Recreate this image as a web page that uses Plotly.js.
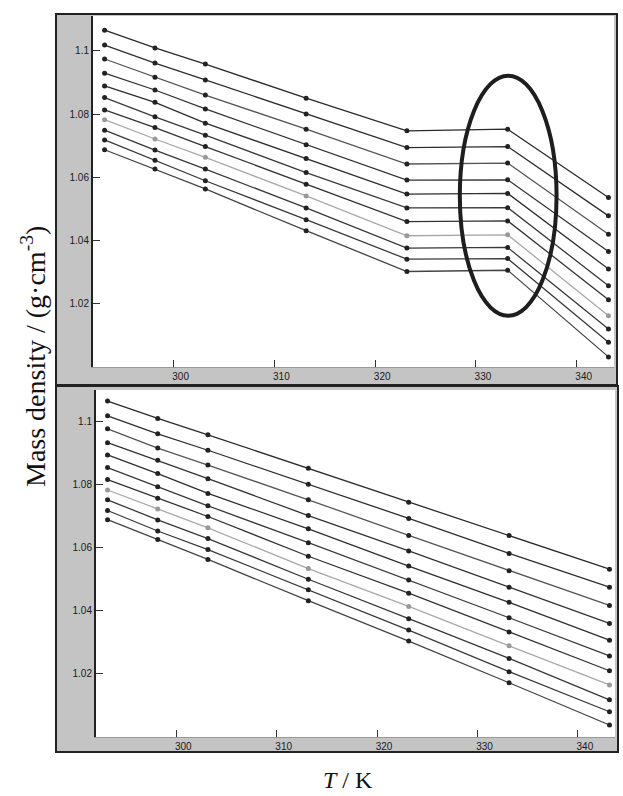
<!DOCTYPE html>
<html>
<head>
<meta charset="utf-8">
<script src="https://cdn.plot.ly/plotly-3.0.1.min.js"></script>
<style>html,body{margin:0;padding:0;background:#fff;}#chart{width:623px;height:796px;}</style>
</head>
<body>
<div id="chart"></div>
<script>
// Temperatures (K)
const temperatures = [293.15, 298.15, 303.15, 313.15, 323.15, 333.15, 343.15];
const xTicks = [300, 310, 320, 330, 340];
const yTicks = [1.02, 1.04, 1.06, 1.08, 1.1];
const yTickText = ['1.02', '1.04', '1.06', '1.08', '1.1'];

// Upper panel: mass density (g/cm3) of the 11 samples at each temperature (with plateau)
const top293 = [1.1065, 1.1018, 1.0974, 1.0929, 1.0889, 1.0852, 1.0813, 1.0782, 1.0749, 1.0718, 1.0687];
const top298 = [1.1009, 1.0961, 1.0916, 1.0876, 1.0837, 1.0791, 1.0757, 1.0721, 1.0686, 1.0654, 1.0626];
const top303 = [1.0958, 1.0908, 1.0860, 1.0816, 1.0771, 1.0733, 1.0697, 1.0663, 1.0626, 1.0589, 1.0563];
const top313 = [1.0850, 1.0800, 1.0752, 1.0703, 1.0659, 1.0615, 1.0578, 1.0541, 1.0503, 1.0466, 1.0431];
const top323 = [1.0747, 1.0694, 1.0642, 1.0591, 1.0547, 1.0503, 1.0460, 1.0415, 1.0376, 1.0341, 1.0302];
const top333 = [1.0752, 1.0697, 1.0645, 1.0592, 1.0549, 1.0504, 1.0462, 1.0418, 1.0378, 1.0343, 1.0306];
const top343 = [1.0536, 1.0478, 1.0420, 1.0365, 1.0310, 1.0257, 1.0213, 1.0162, 1.0120, 1.0078, 1.0032];

// Lower panel: corrected mass density
const bot293 = [1.1065, 1.1018, 1.0977, 1.0933, 1.0894, 1.0854, 1.0816, 1.0783, 1.0752, 1.0718, 1.0689];
const bot298 = [1.1010, 1.0961, 1.0916, 1.0877, 1.0835, 1.0793, 1.0757, 1.0723, 1.0688, 1.0653, 1.0626];
const bot303 = [1.0958, 1.0909, 1.0862, 1.0819, 1.0772, 1.0733, 1.0699, 1.0663, 1.0629, 1.0594, 1.0563];
const bot313 = [1.0852, 1.0801, 1.0752, 1.0702, 1.0660, 1.0616, 1.0573, 1.0534, 1.0500, 1.0467, 1.0432];
const bot323 = [1.0744, 1.0693, 1.0639, 1.0590, 1.0542, 1.0498, 1.0456, 1.0414, 1.0375, 1.0339, 1.0304];
const bot333 = [1.0639, 1.0582, 1.0527, 1.0475, 1.0427, 1.0378, 1.0333, 1.0289, 1.0249, 1.0207, 1.0172];
const bot343 = [1.0532, 1.0475, 1.0417, 1.0360, 1.0307, 1.0257, 1.0210, 1.0165, 1.0118, 1.0080, 1.0038];

// Highlight ellipse around the plateau (data units)
const highlightX = [328.4, 338.0];
const highlightY = [1.0162, 1.0921];

const topCols = [top293, top298, top303, top313, top323, top333, top343];
const botCols = [bot293, bot298, bot303, bot313, bot323, bot333, bot343];

const W = 623, H = 796;
const px = v => v / W;
const py = v => 1 - v / H;

const lineColors = ['#2a2a2a','#2e2e2e','#555555','#333333','#2e2e2e','#3a3a3a','#333333','#a8a8a8','#383838','#3a3a3a','#444444'];

const traces = [];
function addPanel(cols, xa, ya) {
  for (let s = 0; s < cols[0].length; s++) {
    traces.push({
      x: temperatures,
      y: cols.map(c => c[s]),
      xaxis: xa, yaxis: ya,
      type: 'scatter', mode: 'lines+markers',
      line: {color: lineColors[s], width: 1.3},
      marker: {color: s === 7 ? '#999' : '#222', size: 5},
      hoverinfo: 'skip'
    });
  }
}
addPanel(topCols, 'x', 'y');
addPanel(botCols, 'x2', 'y2');

const tickFont = {family: 'Liberation Sans Narrow, Liberation Sans, Arial, sans-serif', size: 10, color: '#1a1a1a'};
const serif = 'Liberation Serif, Times New Roman, serif';

function xAxis(domain, anchor) {
  return {
    domain: domain, anchor: anchor, range: [292, 343.7],
    tickmode: 'array', tickvals: xTicks, ticktext: xTicks.map(String),
    ticks: 'inside', ticklen: 7, tickwidth: 1, tickcolor: '#333',
    showgrid: false, zeroline: false, showline: true, linecolor: '#999', linewidth: 1,
    tickfont: tickFont, ticklabelshift: 7, fixedrange: true
  };
}
function yAxis(domain, anchor, range) {
  return {
    domain: domain, anchor: anchor, range: range,
    tickmode: 'array', tickvals: yTicks, ticktext: yTickText,
    ticks: 'inside', ticklen: 7, tickwidth: 1, tickcolor: '#333',
    showgrid: false, zeroline: false, showline: true, linecolor: '#222', linewidth: 2,
    tickfont: tickFont, ticklabelposition: 'outside', fixedrange: true
  };
}

const shapes = [
  {type:'rect', xref:'paper', yref:'paper', x0:0, x1:px(56), y0:0, y1:1, fillcolor:'#fff', line:{width:0}, layer:'below'},
  {type:'rect', xref:'paper', yref:'paper', x0:0, x1:1, y0:py(13), y1:1, fillcolor:'#fff', line:{width:0}, layer:'below'},
  {type:'rect', xref:'paper', yref:'paper', x0:px(618), x1:1, y0:0, y1:1, fillcolor:'#fff', line:{width:0}, layer:'below'},
  {type:'rect', xref:'paper', yref:'paper', x0:0, x1:1, y0:0, y1:py(752), fillcolor:'#fff', line:{width:0}, layer:'below'},
  {type:'rect', xref:'paper', yref:'paper', x0:px(56), x1:px(617), y0:py(385), y1:py(14), line:{color:'#222', width:2}, layer:'above'},
  {type:'rect', xref:'paper', yref:'paper', x0:px(56), x1:px(618), y0:py(752), y1:py(386), line:{color:'#222', width:2}, layer:'above'},
  {type:'circle', xref:'x', yref:'y', x0:highlightX[0], x1:highlightX[1], y0:highlightY[0], y1:highlightY[1], line:{color:'#1e1e1e', width:4}, layer:'above'}
];

const annotations = [
  {xref:'paper', yref:'paper', x:px(33), y:py(357), text:'Mass density / (g·cm<sup>-3</sup>)', textangle:-90,
   showarrow:false, font:{family: serif, size: 28, color:'#111'}, xanchor:'center', yanchor:'middle'},
  {xref:'paper', yref:'paper', x:px(348), y:py(795), text:'<i>T</i> / K',
   showarrow:false, font:{family: serif, size: 24, color:'#111'}, xanchor:'center', yanchor:'bottom'}
];

const layout = {
  width: W, height: H,
  margin: {l:0, r:0, t:0, b:0, pad:0},
  paper_bgcolor: '#c4c4c4', plot_bgcolor: '#ffffff',
  showlegend: false,
  xaxis: xAxis([px(93), px(614)], 'y'),
  yaxis: yAxis([py(367), py(16)], 'x', [1.0, 1.111]),
  xaxis2: xAxis([px(96), px(615)], 'y2'),
  yaxis2: yAxis([py(737), py(390)], 'x2', [1.0, 1.11]),
  shapes: shapes,
  annotations: annotations
};

Plotly.newPlot('chart', traces, layout, {staticPlot: true, displayModeBar: false});
</script>
</body>
</html>
